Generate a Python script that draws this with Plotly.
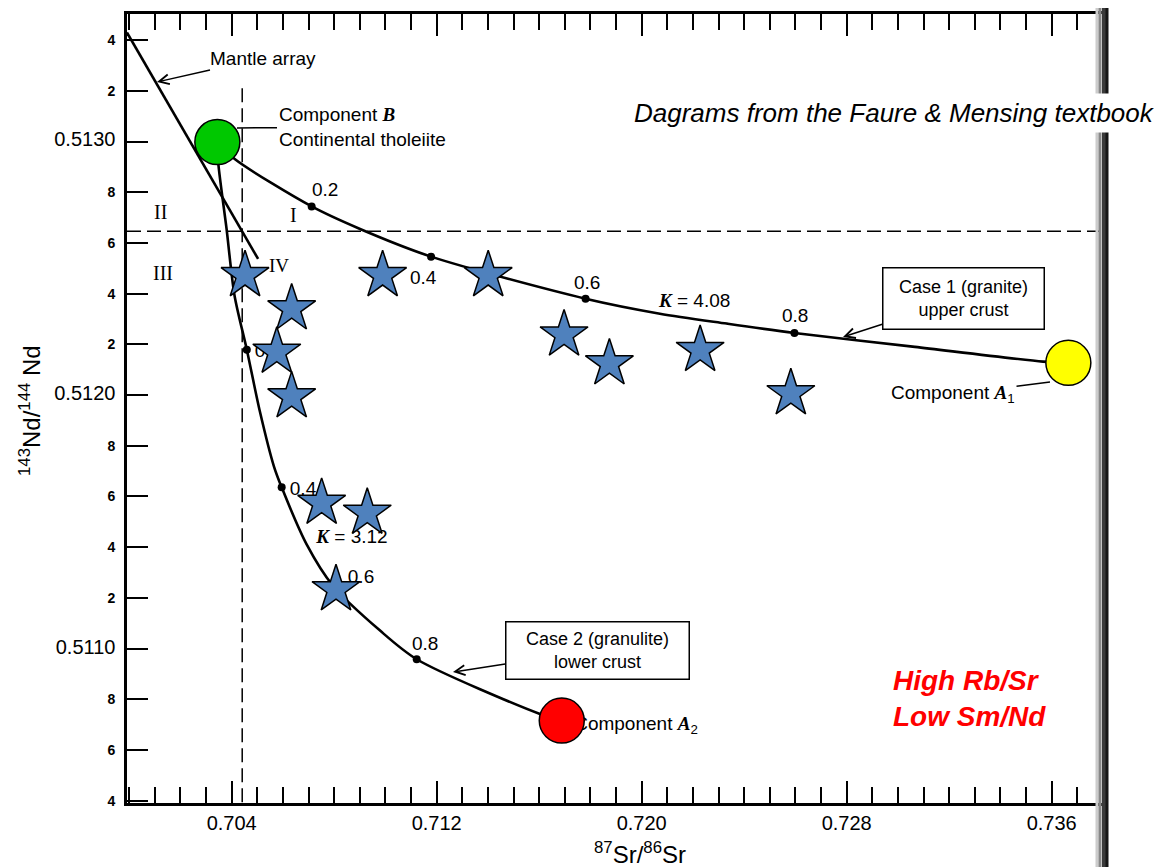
import plotly.graph_objects as go

# ---------------- values ----------------
sr_range = [0.699914, 0.737963]
nd_range = [0.510391, 0.513503]
sr_major_ticks = [0.704, 0.712, 0.720, 0.728, 0.736]
sr_major_text = ["0.704", "0.712", "0.720", "0.728", "0.736"]
nd_tick_vals = [0.5104, 0.5106, 0.5108, 0.5110, 0.5112, 0.5114, 0.5116, 0.5118,
                0.5120, 0.5122, 0.5124, 0.5126, 0.5128, 0.5130, 0.5132, 0.5134]
nd_tick_text = ["4", "6", "8", "0.5110", "2", "4", "6", "8",
                "0.5120", "2", "4", "6", "8", "0.5130", "2", "4"]

# sample stars
star_sr = [0.70452, 0.70634, 0.70576, 0.70634, 0.70989, 0.71401, 0.71697,
           0.71874, 0.72228, 0.72582, 0.70751, 0.70929, 0.70807]
star_nd = [0.512472, 0.512341, 0.512170, 0.511994, 0.512472, 0.512472, 0.512238,
           0.512124, 0.512177, 0.512006, 0.511574, 0.511535, 0.511233]

# end-member components: B, A1, A2
comp_names = ["B", "A1", "A2"]
comp_sr = [0.70344, 0.73665, 0.71688]
comp_nd = [0.512998, 0.512127, 0.510716]
comp_colors = ["#00C800", "#FFFF00", "#FF0000"]

# mantle array line
mantle_sr = [0.69991, 0.70503]
mantle_nd = [0.513430, 0.512537]

# case 1 mixing curve (B -> A1)
case1_sr = [0.70344, 0.70413, 0.70712, 0.70901, 0.71178, 0.71781,
            0.72071, 0.72332, 0.72596, 0.73066, 0.73566, 0.73665]
case1_nd = [0.512998, 0.512930, 0.512744, 0.512655, 0.512546, 0.512380,
            0.512321, 0.512282, 0.512245, 0.512190, 0.512132, 0.512127]
case1_dot_sr = [0.70712, 0.71178, 0.71781, 0.72596]
case1_dot_nd = [0.512744, 0.512546, 0.512380, 0.512245]

# case 2 mixing curve (B -> A2)
case2_sr = [0.70344, 0.70348, 0.70380, 0.70411, 0.70459, 0.70510, 0.70565,
            0.70595, 0.70693, 0.70795, 0.70979, 0.71122, 0.71603, 0.71688]
case2_nd = [0.512998, 0.512911, 0.512655, 0.512393, 0.512179, 0.511935, 0.511718,
            0.511636, 0.511410, 0.511248, 0.511071, 0.510958, 0.510742, 0.510716]
case2_dot_sr = [0.70459, 0.70595, 0.70795, 0.71122]
case2_dot_nd = [0.512179, 0.511636, 0.511248, 0.510958]

# dashed reference lines
ref_sr = 0.70441
ref_nd = 0.512646
ref_sr_top = 0.51321

# ---------------- layout geometry (window pixels) ----------------
OFF = 8                      # page body margin
W, H = 1162, 867
L, R, T, B = 127, 1102, 14, 803
SANS = "Liberation Sans"
SERIF = "Liberation Serif"


def PX(px):
    return (px - L) / (R - L)


def PY(py):
    return (B - py) / (B - T)


def DX(px):
    return sr_range[0] + PX(px) * (sr_range[1] - sr_range[0])


def DY(py):
    return nd_range[0] + PY(py) * (nd_range[1] - nd_range[0])


def serif(t, bold=True):
    inner = "<i>%s</i>" % t
    if bold:
        inner = "<b>%s</b>" % inner
    return "<span style='font-family:%s'>%s</span>" % (SERIF, inner)


fig = go.Figure()

# mantle array
fig.add_trace(go.Scatter(x=mantle_sr, y=mantle_nd, mode="lines",
                         line=dict(color="black", width=2.6), hoverinfo="skip"))
# mixing curves
fig.add_trace(go.Scatter(x=case1_sr, y=case1_nd, mode="lines",
                         line=dict(color="black", width=2.6, shape="spline", smoothing=0.8),
                         hoverinfo="skip"))
fig.add_trace(go.Scatter(x=case2_sr, y=case2_nd, mode="lines",
                         line=dict(color="black", width=2.6, shape="spline", smoothing=0.8),
                         hoverinfo="skip"))
fig.add_trace(go.Scatter(x=case1_dot_sr + case2_dot_sr, y=case1_dot_nd + case2_dot_nd,
                         mode="markers", marker=dict(color="black", size=8), hoverinfo="skip"))

# labels that sit underneath stars / circles
under = [
    ("0.2", 268, 352, SANS),
    ("0.4", 303, 490, SANS),
    (serif("K") + " = 3.12", 352, 538, SANS),
    ("0.6", 361, 578, SANS),
    ("IV", 279, 267, SERIF),
    ("Component " + serif("A") + "<sub>2</sub>", 636, 725, SANS),
]
for t, px, py, fam in under:
    fig.add_trace(go.Scatter(x=[DX(px)], y=[DY(py)], mode="text", text=[t],
                             textposition="middle center",
                             textfont=dict(family=fam, size=19, color="black"),
                             hoverinfo="skip"))

# end-member circles
fig.add_trace(go.Scatter(x=comp_sr, y=comp_nd, mode="markers", text=comp_names,
                         marker=dict(color=comp_colors, size=45,
                                     line=dict(color="black", width=1.5)),
                         hoverinfo="text"))
# sample stars
fig.add_trace(go.Scatter(x=star_sr, y=star_nd, mode="markers",
                         marker=dict(symbol="star", color="#4F81BD", size=36,
                                     line=dict(color="black", width=1.5)),
                         hoverinfo="skip"))

annotations = []


def label(text, px, py, size=19, family=SANS, **kw):
    d = dict(text=text, x=PX(px), y=PY(py), xref="paper", yref="paper",
             xanchor="center", yanchor="middle",
             showarrow=False, font=dict(size=size, family=family, color="black"))
    d.update(kw)
    annotations.append(d)


def leader(text, tip, txt, size=19, head=0, **kw):
    d = dict(text=text, x=PX(tip[0]), y=PY(tip[1]), xref="paper", yref="paper",
             showarrow=True, ax=txt[0] - tip[0], ay=txt[1] - tip[1],
             axref="pixel", ayref="pixel", arrowhead=head, arrowsize=1.3,
             arrowwidth=1.5, arrowcolor="black",
             font=dict(size=size, family=SANS, color="black"))
    d.update(kw)
    annotations.append(d)


label("0.2", 325, 189)
label("0.4", 423, 277)
label("0.6", 587, 282)
label(serif("K") + " = 4.08", 694, 300)
label("0.8", 795, 315)
label("0.8", 425, 643)
label("I", 293, 215, family=SERIF, size=20)
label("II", 160, 212, family=SERIF, size=20)
label("III", 163, 273, family=SERIF, size=20)

leader("Mantle array", (157, 82), (263, 58), head=5)
leader("Component " + serif("B") + "<br>Continental tholeiite", (237, 128), (362, 127),
       align="left")
leader("Case 1 (granite)<br>upper crust", (843, 337), (963, 298), size=18, head=5,
       bordercolor="black", borderwidth=1.5, borderpad=5, width=150, height=50,
       bgcolor="white")
leader("Case 2 (granulite)<br>lower crust", (453, 672), (597, 650), size=18, head=5,
       bordercolor="black", borderwidth=1.5, borderpad=5, width=172, height=46,
       bgcolor="white")
leader("Component " + serif("A") + "<sub>1</sub>", (1050, 382), (953, 394))

# axis titles
label("<sup>87</sup>Sr/<sup>86</sup>Sr", 640, 853, size=24)
label("<sup>143</sup>Nd/<sup>144</sup> Nd", 30, 411, size=24, textangle=-90)

# overlay texts
label("<b><i>High Rb/Sr<br>Low Sm/Nd</i></b>", 891, 698, xanchor="left",
      align="left", font=dict(size=28, family=SANS, color="#FF0000"))

shapes = [
    # dashed reference lines
    dict(type="line", xref="x", yref="y", x0=ref_sr, x1=ref_sr, y0=ref_sr_top, y1=nd_range[0],
         line=dict(color="black", width=1.5, dash="14px,6px"), layer="below"),
    dict(type="line", xref="x", yref="y", x0=sr_range[0], x1=sr_range[1], y0=ref_nd, y1=ref_nd,
         line=dict(color="black", width=1.5, dash="14px,6px"), layer="below"),
]
# scanned page edge at the right
for px, col, wd in [(1097, "#cccccc", 3), (1100, "#888888", 3), (1104, "#3a3a3a", 4), (1107, "#151515", 3)]:
    shapes.append(dict(type="line", xref="paper", yref="paper", x0=PX(px), x1=PX(px),
                       y0=PY(867), y1=PY(6), line=dict(color=col, width=wd)))

label("<i>Dagrams from the Faure &amp; Mensing textbook</i>", 1160, 113, size=26,
      xanchor="right", bgcolor="white", borderpad=4)

fig.update_layout(
    width=W - OFF, height=H - OFF,
    margin=dict(l=L - OFF, r=W - R, t=T - OFF, b=H - B, autoexpand=False),
    paper_bgcolor="white", plot_bgcolor="white",
    showlegend=False,
    font=dict(family=SANS, color="black"),
    annotations=annotations,
    shapes=shapes,
    xaxis=dict(range=sr_range, showgrid=False, zeroline=False, automargin=False,
               showline=True, linecolor="black", linewidth=2.6, mirror="ticks",
               ticks="inside", ticklen=22, tickwidth=2, tickcolor="black",
               tickmode="array", tickvals=sr_major_ticks, ticktext=sr_major_text,
               tickfont=dict(size=20, family=SANS, color="black"),
               minor=dict(tickmode="linear", tick0=0.700, dtick=0.001, ticks="inside",
                          ticklen=16, tickwidth=2, tickcolor="black", showgrid=False)),
    yaxis=dict(range=nd_range, showgrid=False, zeroline=False, automargin=False,
               showline=True, linecolor="black", linewidth=2.6, mirror=False,
               ticks="inside", ticklen=21, tickwidth=2, tickcolor="black",
               tickmode="array", tickvals=nd_tick_vals,
               ticktext=[("<span style='font-size:20px'>%s</span>" % t) if len(t) > 1
                         else "<b>%s</b>" % t for t in nd_tick_text],
               tickfont=dict(size=14, family=SANS, color="black"),
               ticklabelstandoff=6),
)

fig.write_html("out.html")
